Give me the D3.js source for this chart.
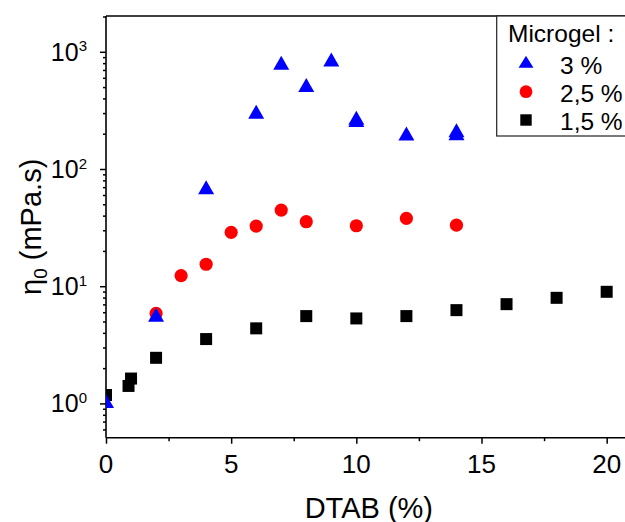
<!DOCTYPE html>
<html>
<head>
<meta charset="utf-8">
<script src="https://cdn.jsdelivr.net/npm/d3@7"></script>
<style>
  html, body { margin: 0; padding: 0; background: #fff; }
  svg { display: block; font-family: "Liberation Sans", Arial, sans-serif; }
</style>
</head>
<body>
<svg id="chart" width="625" height="522"></svg>
<script>
// ---- data ----
const xTickValues = [0, 5, 10, 15, 20];
const xMinorValues = [2.5, 7.5, 12.5, 17.5];
const yExponents = [0, 1, 2, 3];

const legendTitle = "Microgel :";
const seriesNames = ["3 %", "2,5 %", "1,5 %"];

const conc3 = [0, 2, 4, 6, 7, 8, 9, 10, 10, 12, 14, 14];
const visc3 = [1.05, 5.7, 70, 308, 806, 520, 860, 262, 274, 201, 202, 214];

const conc25 = [2, 3, 4, 5, 6, 7, 8, 10, 12, 14];
const visc25 = [5.86, 12.3, 15.4, 28.8, 32.6, 44.6, 35.5, 32.8, 37.9, 33.2];

const conc15 = [0, 0.9, 1, 2, 4, 6, 8, 10, 12, 14, 16, 18, 20];
const visc15 = [1.18, 1.41, 1.63, 2.45, 3.54, 4.37, 5.56, 5.31, 5.56, 6.25, 7.03, 7.96, 8.96];

// ---- layout ----
const svg = d3.select("#chart");
const pL = 106, pR = 631.7, pT = 16, pB = 437.7;

const x = d3.scaleLinear().domain([0, 21]).range([pL, pR]);
const y = d3.scaleLog().domain([0.51, 2020]).range([pB, pT]);

const yMajor = yExponents.map(e => Math.pow(10, e));
const yMinor = [];
for (let e = -1; e <= 3; e++) {
  for (let m = 2; m <= 9; m++) {
    const v = m * Math.pow(10, e);
    if (v >= 0.51 && v <= 2020) yMinor.push(v);
  }
}

// clip
svg.append("defs").append("clipPath").attr("id", "plotclip")
  .append("rect").attr("x", pL).attr("y", pT)
  .attr("width", pR - pL).attr("height", pB - pT);

const axisColor = "#000";

// left axis: major & minor ticks
const gy = svg.append("g").attr("transform", `translate(${pL},0)`);
gy.call(d3.axisLeft(y).tickValues(yMajor).tickSize(6).tickFormat(""));
gy.select(".domain").remove();
const gy2 = svg.append("g").attr("transform", `translate(${pL},0)`);
gy2.call(d3.axisLeft(y).tickValues(yMinor).tickSize(3).tickFormat(""));
gy2.select(".domain").remove();

// bottom axis
const gx = svg.append("g").attr("transform", `translate(0,${pB})`);
gx.call(d3.axisBottom(x).tickValues(xTickValues).tickSize(6).tickFormat(""));
gx.select(".domain").remove();
const gx2 = svg.append("g").attr("transform", `translate(0,${pB})`);
gx2.call(d3.axisBottom(x).tickValues(xMinorValues).tickSize(3.5).tickFormat(""));
gx2.select(".domain").remove();
svg.selectAll(".tick line").attr("stroke", axisColor).attr("stroke-width", 1.5);

// axis lines & top frame
svg.append("line").attr("x1", pL).attr("x2", pL).attr("y1", pT).attr("y2", pB)
  .attr("stroke", axisColor).attr("stroke-width", 1.6);
svg.append("line").attr("x1", pL).attr("x2", pR).attr("y1", pB).attr("y2", pB)
  .attr("stroke", axisColor).attr("stroke-width", 1.6);
svg.append("line").attr("x1", pL).attr("x2", pR).attr("y1", pT).attr("y2", pT)
  .attr("stroke", axisColor).attr("stroke-width", 1.6);

// x tick labels
svg.append("g").selectAll("text").data(xTickValues).join("text")
  .attr("x", d => x(d)).attr("y", 472.5)
  .attr("text-anchor", "middle").attr("font-size", 26).attr("fill", "#000")
  .text(d => d);

// y tick labels with superscript
const yl = svg.append("g").selectAll("text").data(yExponents).join("text")
  .attr("x", 87).attr("y", d => y(Math.pow(10, d)) + 9)
  .attr("text-anchor", "end").attr("font-size", 25).attr("fill", "#000");
yl.append("tspan").text("10");
yl.append("tspan").attr("font-size", 15).attr("dy", -9.5).text(d => d);

// axis titles
svg.append("text").attr("x", (pL + pR) / 2).attr("y", 517.5)
  .attr("text-anchor", "middle").attr("font-size", 29).attr("fill", "#000")
  .text("DTAB (%)");

const yt = svg.append("text")
  .attr("transform", `translate(41,${(pT + pB) / 2}) rotate(-90)`)
  .attr("text-anchor", "middle").attr("font-size", 29).attr("fill", "#000");
yt.append("tspan").text("η");
yt.append("tspan").attr("font-size", 19).attr("dy", 6).text("0");
yt.append("tspan").attr("dy", -6).text(" (mPa.s)");

// marker shapes
function triPath(w, h) {
  return `M0,${-h / 2}L${w / 2},${h / 2}L${-w / 2},${h / 2}Z`;
}
const plot = svg.append("g").attr("clip-path", "url(#plotclip)");

const d15 = conc15.map((c, i) => ({ c, v: visc15[i] }));
const d25 = conc25.map((c, i) => ({ c, v: visc25[i] }));
const d3s = conc3.map((c, i) => ({ c, v: visc3[i] }));

plot.append("g").selectAll("rect").data(d15).join("rect")
  .attr("x", d => x(d.c) - 6).attr("y", d => y(d.v) - 6)
  .attr("width", 12).attr("height", 12).attr("fill", "#000");

plot.append("g").selectAll("circle").data(d25).join("circle")
  .attr("cx", d => x(d.c)).attr("cy", d => y(d.v)).attr("r", 6.6)
  .attr("fill", "#ff0000");

plot.append("g").selectAll("path").data(d3s).join("path")
  .attr("transform", d => `translate(${x(d.c)},${y(d.v)})`)
  .attr("d", triPath(16, 14)).attr("fill", "#0000ff");

// legend
const lg = svg.append("g");
lg.append("rect").attr("x", 496.7).attr("y", pT).attr("width", 200).attr("height", 136 - pT)
  .attr("fill", "#fff").attr("stroke", "#222").attr("stroke-width", 1.2);
lg.append("text").attr("x", 508).attr("y", 41.5).attr("font-size", 24.5).attr("fill", "#000")
  .text(legendTitle);
const legY = [61.7, 91.7, 120];
const legBase = [73.5, 101.5, 129.5];
lg.append("path").attr("transform", `translate(526,${legY[0]})`)
  .attr("d", triPath(15, 12)).attr("fill", "#0000ff");
lg.append("circle").attr("cx", 526).attr("cy", legY[1]).attr("r", 6.4).attr("fill", "#ff0000");
lg.append("rect").attr("x", 526 - 5.7).attr("y", legY[2] - 5.7).attr("width", 11.4).attr("height", 11.4)
  .attr("fill", "#000");
lg.selectAll("text.entry").data(seriesNames).join("text").attr("class", "entry")
  .attr("x", 560).attr("y", (d, i) => legBase[i]).attr("font-size", 24.5).attr("fill", "#000")
  .text(d => d);
</script>
</body>
</html>
